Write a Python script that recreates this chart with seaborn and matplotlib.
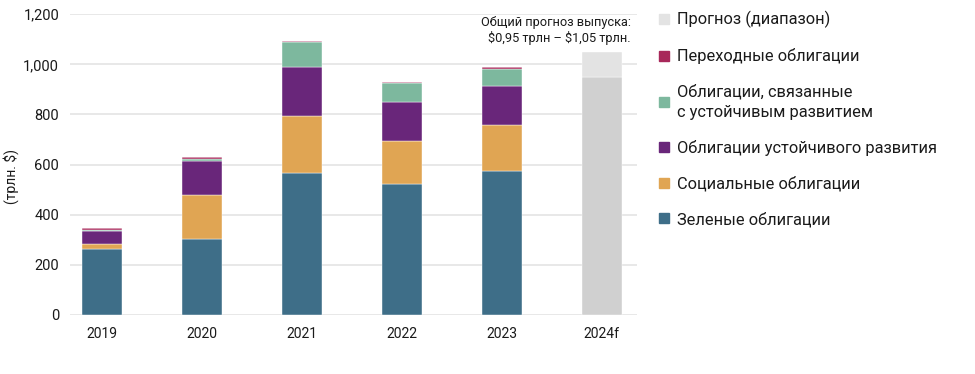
import matplotlib
matplotlib.use("Agg")
import matplotlib.pyplot as plt
from matplotlib.lines import Line2D
import numpy as np
import pandas as pd
import seaborn as sns

# Issuance by year, trillion $
years = ["2019", "2020", "2021", "2022", "2023", "2024f"]
green = [264, 304, 568, 524, 573, 0]
social = [20, 175, 224, 172, 184, 0]
sustainability = [49, 134, 197, 152, 156, 0]
sustainability_linked = [7, 10, 100, 77, 70, 0]
transition = [5, 6, 5, 6, 5, 0]
forecast_low = [0, 0, 0, 0, 0, 950]
forecast_range = [0, 0, 0, 0, 0, 100]

series_labels = [
    "Зеленые облигации",
    "Социальные облигации",
    "Облигации устойчивого развития",
    "Облигации, связанные\nс устойчивым развитием",
    "Переходные облигации",
    "Прогноз (диапазон)",
]
y_ticks = [0, 200, 400, 600, 800, 1000, 1200]

colors = {
    "green": "#3E6E88",
    "social": "#E0A553",
    "sust": "#69267A",
    "slb": "#7DB89E",
    "trans": "#A8285A",
    "fc_dark": "#D0D0D0",
    "fc_light": "#E3E3E3",
}

sns.set_theme(style="white")
plt.rcParams["font.family"] = ["Roboto", "DejaVu Sans"]

fig = plt.figure(figsize=(9.75, 3.74), dpi=100)
ax = fig.add_axes([0.072, 0.158, 0.581, 0.804])

layers = [
    (green, colors["green"]),
    (social, colors["social"]),
    (sustainability, colors["sust"]),
    (sustainability_linked, colors["slb"]),
    (transition, colors["trans"]),
    (forecast_low, colors["fc_dark"]),
    (forecast_range, colors["fc_light"]),
]

bottom = np.zeros(len(years))
for values, color in layers:
    df = pd.DataFrame({"year": years, "value": values})
    sns.barplot(
        data=df,
        x="year",
        y="value",
        order=years,
        bottom=bottom,
        color=color,
        saturation=1,
        width=0.4,
        edgecolor="#FFFFFF",
        linewidth=0.3,
        ax=ax,
        zorder=3,
    )
    bottom = bottom + np.array(values)

ax.set_ylim(0, 1200)
ax.set_xlim(-0.32, 5.35)
ax.set_yticks(y_ticks)
ax.set_yticklabels([f"{v:,}" for v in y_ticks], fontsize=10.5, color="#1A1A1A")
ax.tick_params(axis="x", labelsize=10, colors="#1A1A1A", length=0, pad=9)
ax.tick_params(axis="y", length=0, pad=8)
ax.yaxis.grid(True, color="#E4E4E4", linewidth=1.2, zorder=0)
ax.set_axisbelow(True)
for spine in ax.spines.values():
    spine.set_visible(False)

ax.set_xlabel("")
ax.set_ylabel("(трлн. \\$)", fontsize=10, color="#1A1A1A")
ax.yaxis.set_label_coords(-0.09, 0.46)

ax.text(
    5.29,
    1136,
    "Общий прогноз выпуска:\n\\$0,95 трлн – \\$1,05 трлн.",
    ha="right",
    va="center",
    multialignment="right",
    fontsize=9.2,
    color="#1A1A1A",
    linespacing=1.2,
)

legend_colors = [
    colors["fc_light"],
    colors["trans"],
    colors["slb"],
    colors["sust"],
    colors["social"],
    colors["green"],
]
handles = [
    Line2D([0], [0], marker="s", linestyle="", markersize=7.5,
           markerfacecolor=c, markeredgecolor=c)
    for c in legend_colors
]
leg = fig.legend(
    handles,
    list(reversed(series_labels)),
    loc="upper left",
    bbox_to_anchor=(0.66, 1.01),
    frameon=False,
    fontsize=11.8,
    handlelength=0.7,
    handletextpad=0.45,
    labelspacing=1.22,
    labelcolor="#1A1A1A",
)
for t in leg.get_texts():
    t.set_linespacing(1.45)

fig.savefig("out.png", dpi=100)
plt.close(fig)
